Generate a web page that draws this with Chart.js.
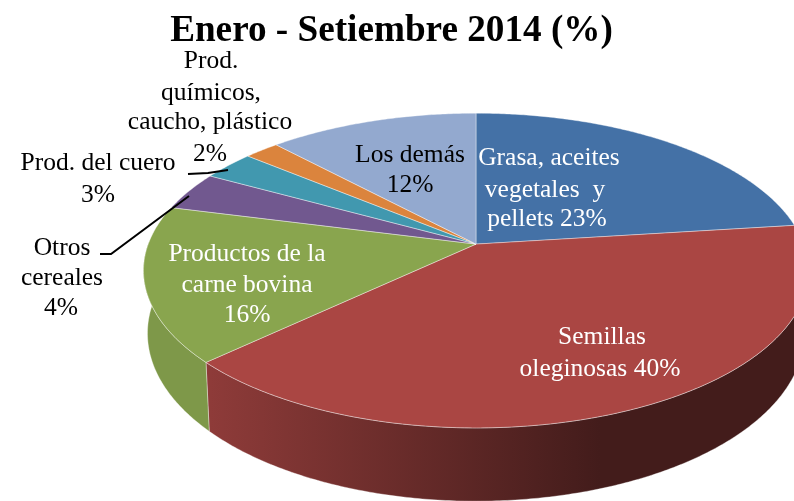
<!DOCTYPE html>
<html>
<head>
<meta charset="utf-8">
<style>html,body{margin:0;padding:0;background:#fff}canvas{display:block}</style>
<script src="https://cdn.jsdelivr.net/npm/chart.js@4"></script>
</head>
<body>
<canvas id="c" width="794" height="501"></canvas>
<script>
const categories = ['Grasa, aceites vegetales y pellets','Semillas oleginosas','Productos de la carne bovina','Otros cereales','Prod. del cuero','Prod. químicos, caucho, plástico','Los demás'];
const shares = [23,40,16,4,3,2,12];
const topColors = ['#4471A6','#AA4643','#89A54E','#71588F','#4198AF','#DB843D','#93A9CF'];
const wallFrom = ['#2f4f75','#8E3B39','#7E9849','#4f3e64','#2d6a7a','#99602b','#677691'];
const wallTo   = ['#2f4f75','#431C1B','#6D863F','#4f3e64','#2d6a7a','#99602b','#677691'];
const title = 'Enero - Setiembre 2014 (%)';
const labelFont = '25.5px "Liberation Serif"';
// text, centre x, baseline y, colour
const labelLines = [
  ['Grasa, aceites',549,165,'#fff'],['vegetales  y',545,197,'#fff'],['pellets 23%',547,226,'#fff'],
  ['Semillas',602,344,'#fff'],['oleginosas 40%',600,376,'#fff'],
  ['Productos de la',247,261,'#fff'],['carne bovina',247,292,'#fff'],['16%',247,322,'#fff'],
  ['Otros',62,255,'#000'],['cereales',62,285,'#000'],['4%',61,315,'#000'],
  ['Prod. del cuero',98,170,'#000'],['3%',98,202,'#000'],
  ['Prod.',211,68,'#000'],['químicos,',211,100,'#000'],['caucho, plástico',210,129,'#000'],['2%',210,161,'#000'],
  ['Los demás',410,162,'#000'],['12%',410,192,'#000']
];
const leaders = [[[188,174],[208,173],[228,170]],[[100,254],[111,254],[189,196]]];

// perspective of the tilted disc, relative to the library's arc radius
const BASE_R = 190.6;
const TILT = -0.168, SX = 328/BASE_R, SY = 153/BASE_R, DEPTH = 61/BASE_R, SHRINK = 0.988;

function project(arc, angle, lower){
  const t = angle + Math.PI/2, u = Math.sin(t), v = -Math.cos(t);
  const w = 1 + TILT*v, R = arc.outerRadius;
  let x = SX*R*u/w, y = SY*R*v/w;
  if(lower){ x *= SHRINK; y += DEPTH*R/w; }
  return [arc.x + x, arc.y + y];
}
function anglesOf(arc){
  const n = Math.max(2, Math.ceil((arc.endAngle-arc.startAngle)/0.01)), out=[];
  for(let i=0;i<=n;i++) out.push(arc.startAngle+(arc.endAngle-arc.startAngle)*i/n);
  return out;
}
const pie3d = {
  id:'pie3d',
  afterLayout(chart){
    const tb = chart.titleBlock;
    tb.left = 0; tb.right = 783; tb.width = 783;
  },
  beforeDatasetDraw(chart, args){
    const ctx = chart.ctx, arcs = args.meta.data;
    ctx.save();
    // side walls
    arcs.forEach((arc,i)=>{
      const angs = anglesOf(arc).filter(a=>-Math.cos(a+Math.PI/2) > -0.02);
      if(angs.length<2) return;
      const g = ctx.createLinearGradient(210,0,600,0);
      g.addColorStop(0,wallFrom[i]); g.addColorStop(1,wallTo[i]);
      ctx.beginPath();
      angs.forEach((a,k)=>{const p=project(arc,a,false); k?ctx.lineTo(p[0],p[1]):ctx.moveTo(p[0],p[1]);});
      angs.slice().reverse().forEach(a=>{const p=project(arc,a,true); ctx.lineTo(p[0],p[1]);});
      ctx.closePath();
      ctx.fillStyle=g; ctx.fill();
      ctx.strokeStyle='rgba(255,255,255,0.35)'; ctx.lineWidth=1; ctx.stroke();
    });
    // top faces
    arcs.forEach((arc,i)=>{
      ctx.beginPath();
      ctx.moveTo(arc.x,arc.y);
      anglesOf(arc).forEach(a=>{const p=project(arc,a,false); ctx.lineTo(p[0],p[1]);});
      ctx.closePath();
      ctx.fillStyle=topColors[i]; ctx.fill();
      ctx.strokeStyle='rgba(255,255,255,0.4)'; ctx.lineWidth=1; ctx.stroke();
    });
    ctx.restore();
    return false;
  },
  afterDraw(chart){
    const ctx = chart.ctx;
    ctx.save();
    ctx.strokeStyle='#000'; ctx.lineWidth=2;
    leaders.forEach(l=>{
      ctx.beginPath();
      l.forEach((p,k)=>k?ctx.lineTo(p[0],p[1]):ctx.moveTo(p[0],p[1]));
      ctx.stroke();
    });
    ctx.font=labelFont; ctx.textAlign='center'; ctx.textBaseline='alphabetic';
    labelLines.forEach(l=>{ctx.fillStyle=l[3]; ctx.fillText(l[0],l[1],l[2]);});
    ctx.restore();
  }
};
new Chart(document.getElementById('c'),{
  type:'pie',
  data:{labels:categories,datasets:[{data:shares,backgroundColor:topColors,borderWidth:0}]},
  options:{
    responsive:false,animation:false,
    layout:{padding:{left:285.4,right:127.4,top:0,bottom:66.4}},
    plugins:{
      legend:{display:false},tooltip:{enabled:false},
      title:{display:true,text:title,color:'#000',padding:{top:9,bottom:0},
        font:{family:'"Liberation Serif"',size:37.2,weight:'bold',lineHeight:1.2}}
    }
  },
  plugins:[pie3d]
});
</script>
</body>
</html>
